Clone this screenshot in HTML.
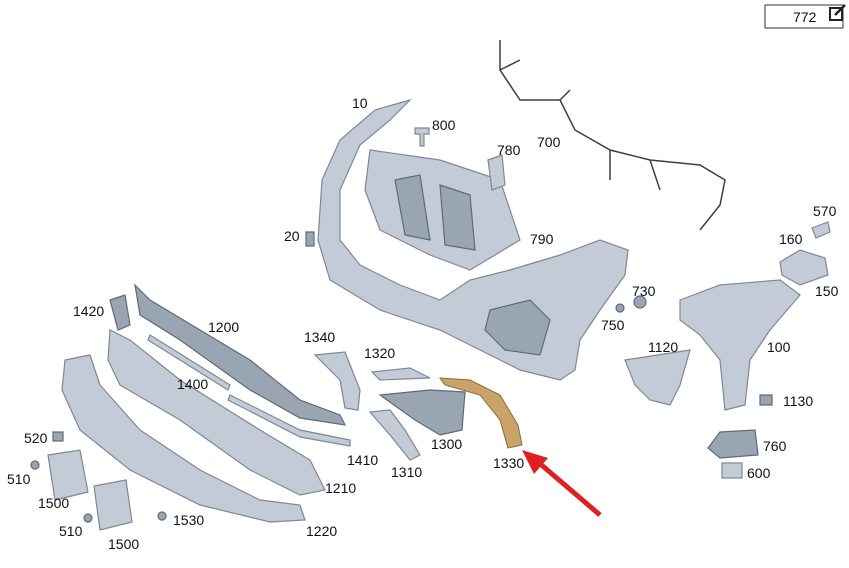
<!DOCTYPE html>
<html><head><meta charset="utf-8"><style>
html,body{margin:0;padding:0;background:#fff;width:849px;height:568px;overflow:hidden}
svg{display:block}
text{font-family:"Liberation Sans",sans-serif;font-size:14px;fill:#111}
.p{fill:#c3ccd6;stroke:#7d8896;stroke-width:1.2}
.d{fill:#9aa5b2;stroke:#5f6a77;stroke-width:1.2}
.w{fill:none;stroke:#3a4048;stroke-width:1.5}
</style></head><body>
<svg width="849" height="568" viewBox="0 0 849 568">
<rect x="765" y="5" width="78" height="23" fill="#fff" stroke="#333"/>
<text x="793" y="22">772</text>
<rect x="830" y="8" width="12" height="12" fill="none" stroke="#222" stroke-width="2"/>
<path d="M835 15 L845 5" stroke="#222" stroke-width="2.5"/>

<!-- main bumper 10 -->
<path class="p" d="M410 100 L375 110 L340 140 L322 180 L318 240 L330 280 L380 310 L440 330 L480 350 L520 370 L560 380 L575 370 L580 340 L600 310 L625 275 L628 250 L600 240 L560 255 L510 270 L470 280 L440 300 L400 285 L360 265 L340 240 L340 190 L360 145 L390 120 Z"/>
<path class="d" d="M490 310 L530 300 L550 320 L540 355 L505 350 L485 330 Z"/>
<!-- grille 790 -->
<path class="p" d="M370 150 L440 160 L500 180 L520 240 L470 270 L430 255 L380 230 L365 190 Z"/>
<path class="d" d="M395 180 L420 175 L430 240 L405 235 Z M440 185 L470 195 L475 250 L445 245 Z"/>
<!-- 800 clip -->
<path class="p" d="M415 128 h14 v6 h-5 v12 h-4 v-12 h-5z"/>
<!-- 780 -->
<path class="p" d="M488 160 L502 155 L505 185 L492 190 Z"/>
<!-- 20 -->
<path class="d" d="M306 232 h8 v14 h-8z"/>
<!-- 700 harness -->
<path class="w" d="M500 40 L500 70 L520 100 L560 100 L575 130 L610 150 L650 160 L700 165 L725 180 L720 205 L700 230 M610 150 L610 180 M650 160 L660 190 M500 70 L520 60 M560 100 L570 90"/>
<!-- 570,160,150 -->
<path class="p" d="M812 228 L828 222 L830 232 L816 238 Z"/>
<path class="p" d="M780 262 L800 250 L825 258 L828 275 L800 285 L782 275 Z"/>
<!-- 100 bracket -->
<path class="p" d="M680 300 L720 285 L780 280 L800 295 L770 330 L750 360 L745 405 L725 410 L720 360 L700 335 L680 320 Z"/>
<path class="p" d="M625 360 L690 350 L680 385 L670 405 L650 400 L635 385 Z"/>
<circle class="d" cx="640" cy="302" r="6"/><circle class="d" cx="620" cy="308" r="4"/>
<!-- 1130,760,600 -->
<path class="d" d="M760 395 h12 v10 h-12z"/>
<path class="d" d="M708 448 L720 432 L755 430 L758 455 L720 458 Z"/>
<rect class="p" x="722" y="463" width="20" height="15"/>
<!-- left parts -->
<path class="d" d="M110 300 L125 295 L130 325 L118 330 Z"/>
<path class="d" d="M135 285 L150 300 L250 360 L300 400 L340 415 L345 425 L300 418 L250 390 L180 340 L140 315 Z"/>
<path class="p" d="M150 335 L230 385 L228 390 L148 340 Z"/>
<path class="p" d="M230 395 L300 430 L350 440 L350 446 L300 437 L228 400 Z"/>
<path class="p" d="M110 330 L130 340 L180 380 L260 430 L310 460 L325 490 L300 495 L250 470 L180 420 L120 385 L108 360 Z"/>
<path class="p" d="M65 360 L90 355 L100 385 L140 430 L200 470 L260 500 L300 505 L305 520 L270 522 L200 505 L130 470 L80 430 L62 390 Z"/>
<path class="p" d="M315 355 L345 352 L360 390 L358 410 L345 408 L340 380 Z"/>
<path class="p" d="M372 372 L410 368 L430 378 L380 380 Z"/>
<path class="d" d="M380 395 L430 390 L465 392 L462 430 L440 435 L415 420 Z"/>
<path class="p" d="M370 412 L390 410 L405 430 L420 455 L410 460 L390 435 Z"/>
<path fill="#c9a36a" stroke="#8a6a3a" d="M440 378 L470 380 L500 395 L518 425 L522 445 L508 448 L500 420 L480 395 L445 385 Z"/>
<!-- plates -->
<path class="p" d="M48 455 L80 450 L88 492 L55 500 Z"/>
<path class="p" d="M94 486 L126 480 L132 522 L100 530 Z"/>
<rect class="d" x="53" y="432" width="10" height="9"/>
<circle class="d" cx="35" cy="465" r="4"/><circle class="d" cx="88" cy="518" r="4"/><circle class="d" cx="162" cy="516" r="4"/>
<!-- red arrow -->
<path d="M600 515 L538 462" stroke="#e02020" stroke-width="5"/>
<path d="M522 450 L548 458 L534 474 Z" fill="#e02020"/>
<!-- labels -->
<text x="352" y="108">10</text><text x="432" y="130">800</text><text x="497" y="155">780</text>
<text x="537" y="147">700</text><text x="284" y="241">20</text><text x="530" y="244">790</text>
<text x="813" y="216">570</text><text x="779" y="244">160</text><text x="815" y="296">150</text>
<text x="632" y="296">730</text><text x="601" y="330">750</text><text x="648" y="352">1120</text>
<text x="767" y="352">100</text><text x="73" y="316">1420</text><text x="208" y="332">1200</text>
<text x="304" y="342">1340</text><text x="364" y="358">1320</text><text x="177" y="389">1400</text>
<text x="783" y="406">1130</text><text x="431" y="449">1300</text><text x="24" y="443">520</text>
<text x="347" y="465">1410</text><text x="391" y="477">1310</text><text x="493" y="468">1330</text>
<text x="763" y="451">760</text><text x="7" y="484">510</text><text x="325" y="493">1210</text>
<text x="747" y="478">600</text><text x="38" y="508">1500</text><text x="173" y="525">1530</text>
<text x="306" y="536">1220</text><text x="59" y="536">510</text><text x="108" y="549">1500</text>
</svg>
</body></html>
